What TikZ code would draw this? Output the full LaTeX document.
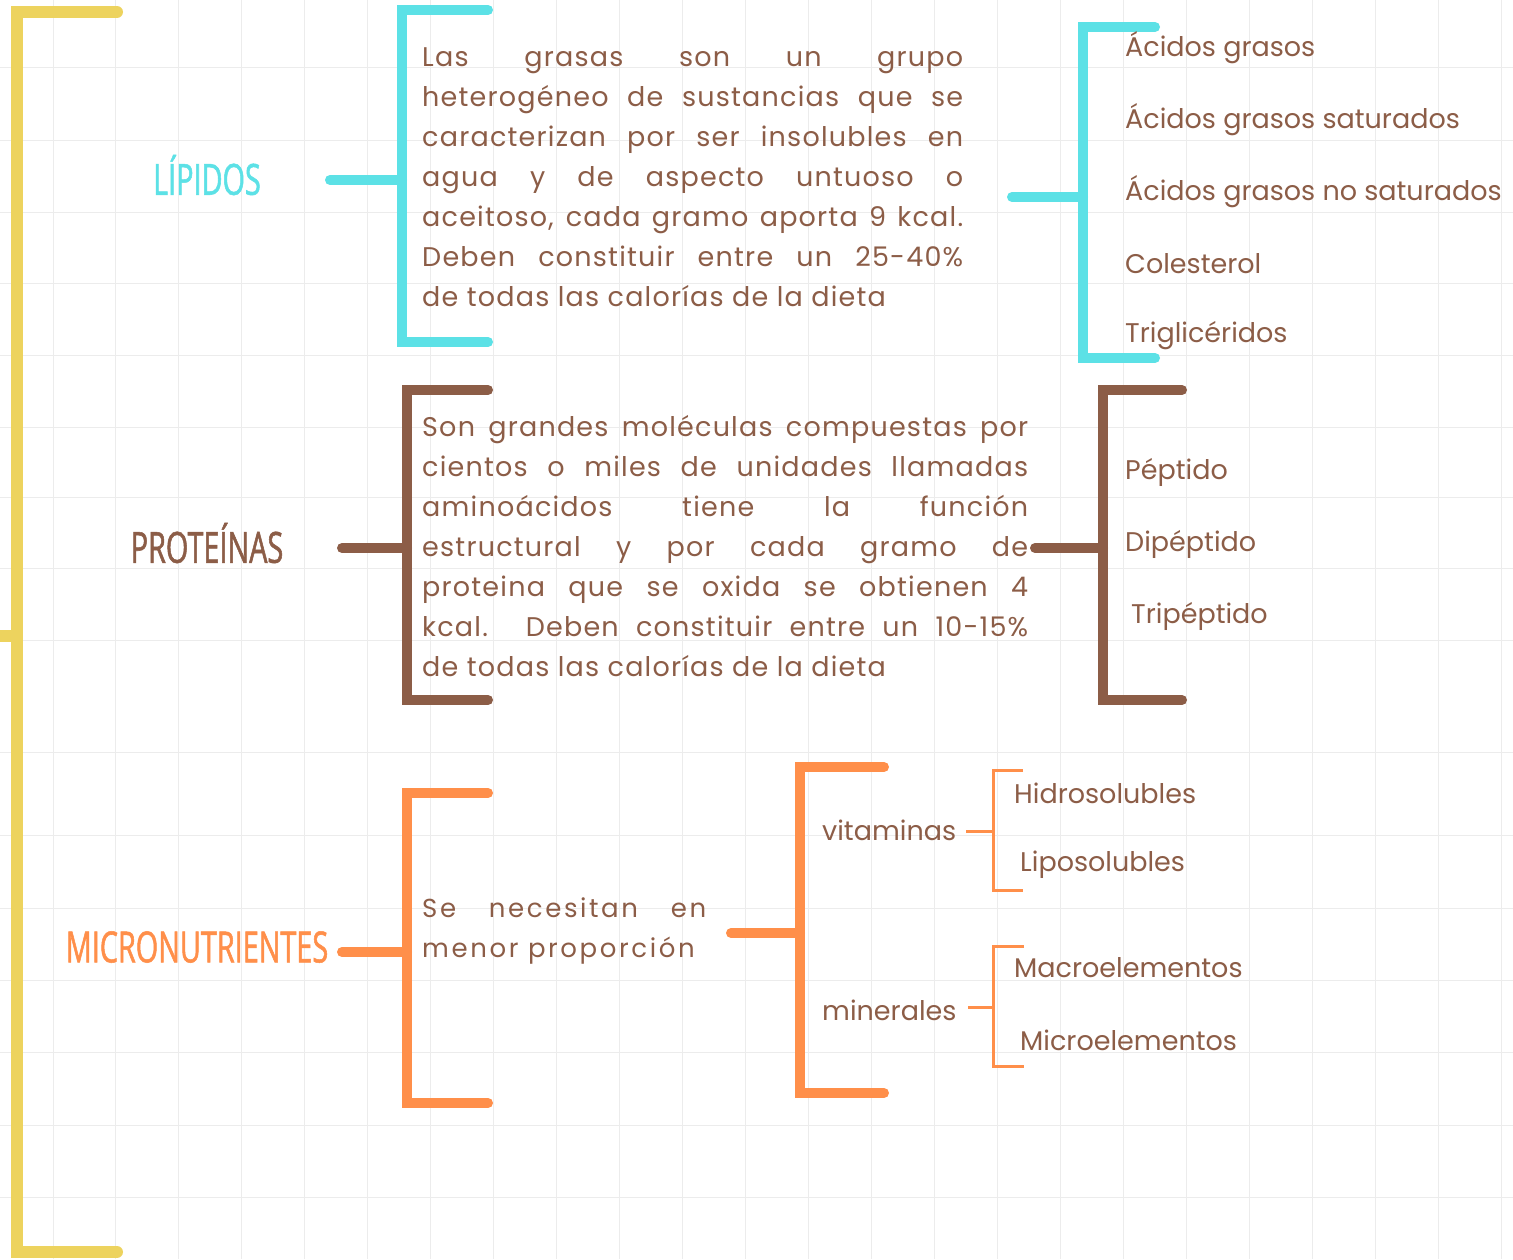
\documentclass[tikz,border=0pt]{standalone}
\usepackage{fontspec}
\setmainfont{Poppins}
\newfontfamily\headfont[FakeStretch=0.67, FakeBold=1.2]{Open Sans}
\newfontfamily\parafont[LetterSpace=4.5]{Poppins}
\newfontfamily\widefont[LetterSpace=10]{Poppins}
\usetikzlibrary{calc, positioning}
\definecolor{yel}{HTML}{EDD35E}
\definecolor{cya}{HTML}{5CE1E6}
\definecolor{brn}{HTML}{8C5D47}
\definecolor{org}{HTML}{FF8F4A}
\definecolor{gridgray}{HTML}{ECECEC}

\begin{document}
\begin{tikzpicture}[x=1pt, y=-1pt,
  bracket/.style={line width=10pt, line cap=round, line join=miter},
  thinbracket/.style={line width=3pt, line join=miter},
  heading/.style={font=\headfont\fontsize{43}{43}\selectfont, inner sep=0pt},
  para/.style={text=brn, font=\parafont\fontsize{27}{40}\selectfont, inner sep=0pt,
    align=justify, anchor=north west},
  item/.style={text=brn, font=\fontsize{27}{30}\selectfont, inner sep=0pt, anchor=west}]
  \useasboundingbox (0,0) rectangle (1513,1259);
  \fill[white] (0,0) rectangle (1513,1259);
  % background grid
  \foreach \gx in {53,115,178,241,304,367,430,493,556,619,682,745,808,871,934,997,1060,1123,1186,1249,1312,1375,1438,1501}
    \draw[gridgray, line width=1pt] (\gx,0) -- (\gx,1259);
  \foreach \gy in {67,140,212,283,355,427,497,568,640,752,835,908,980,1052,1125,1197}
    \draw[gridgray, line width=1pt] (0,\gy) -- (1513,\gy);

  % main bracket
  \coordinate (Yt) at (117,12);
  \coordinate (Yb) at (117,1252);
  \coordinate (Ym) at (17,636);
  \coordinate (Yl) at (0,636);
  \draw[yel, line width=12pt, line cap=round] (Yt) -- (17,12) -- (17,1252) -- (Yb);
  \draw[yel, line width=12pt] (Yl) -- (Ym);

  % lipidos
  \node[heading, text=cya] (lip) at (207,175) {LÍPIDOS};
  \coordinate (lipC) at (330,180);
  \coordinate (lipB) at (402,180);
  \draw[cya, bracket] (lipC) -- (lipB);
  \draw[cya, bracket] (488,10) -- (402,10) -- (402,342) -- (488,342);
  \node[para, text width=541pt] (lipT) at (422,47) {Las grasas son un grupo\linebreak
    heterogéneo de sustancias que se\linebreak
    caracterizan por ser insolubles en\linebreak
    agua y de aspecto untuoso o\linebreak
    aceitoso, cada gramo aporta 9 kcal.\linebreak
    Deben constituir entre un 25-40\%\linebreak
    de todas las calorías de la dieta};
  \coordinate (lipD) at (1012,197);
  \coordinate (lipE) at (1083,197);
  \draw[cya, bracket] (lipD) -- (lipE);
  \draw[cya, bracket] (1155,27) -- (1083,27) -- (1083,358) -- (1155,358);
  \node[item] (ag1) at (1125,48) {Ácidos grasos};
  \node[item] (ag2) at (1125,120) {Ácidos grasos saturados};
  \node[item] (ag3) at (1125,192) {Ácidos grasos no saturados};
  \node[item] (col) at (1125,264) {Colesterol};
  \node[item] (tri) at (1125,336) {Triglicéridos};

  % proteinas
  \node[heading, text=brn] (pro) at (207,543) {PROTEÍNAS};
  \coordinate (proC) at (342,548);
  \coordinate (proB) at (407,548);
  \draw[brn, bracket] (proC) -- (proB);
  \draw[brn, bracket] (488,390) -- (407,390) -- (407,700) -- (488,700);
  \node[para, text width=606pt] (proT) at (422,415) {Son grandes moléculas compuestas por\linebreak
    cientos o miles de unidades llamadas\linebreak
    aminoácidos tiene la función\linebreak
    estructural y por cada gramo de\linebreak
    proteina que se oxida se obtienen 4\linebreak
    kcal. Deben constituir entre un 10-15\%\linebreak
    de todas las calorías de la dieta};
  \coordinate (proD) at (1035,548);
  \coordinate (proE) at (1103,548);
  \draw[brn, bracket] (proD) -- (proE);
  \draw[brn, bracket] (1182,390) -- (1103,390) -- (1103,700) -- (1182,700);
  \node[item] (pep) at (1125,472) {Péptido};
  \node[item] (dip) at (1125,544) {Dipéptido};
  \node[item] (trp) at (1131,616) {Tripéptido};

  % micronutrientes
  \node[heading, text=org] (mic) at (197,947) {MICRONUTRIENTES};
  \coordinate (micC) at (342,952);
  \coordinate (micB) at (407,952);
  \draw[org, bracket] (micC) -- (micB);
  \draw[org, bracket] (488,793) -- (407,793) -- (407,1103) -- (488,1103);
  \node[para, font=\widefont\fontsize{26}{40}\selectfont, text width=284pt] (micT) at (422,897)
    {Se necesitan en\linebreak menor proporción};
  \coordinate (micD) at (731,933);
  \coordinate (micE) at (800,933);
  \draw[org, bracket] (micD) -- (micE);
  \draw[org, bracket] (884,767) -- (800,767) -- (800,1093) -- (884,1093);
  \node[item] (vit) at (822,830) {vitaminas};
  \node[item] (min) at (822,1010) {minerales};
  \coordinate (vitC) at (966,831);
  \coordinate (vitB) at (993,831);
  \draw[org, thinbracket] (vitC) -- (vitB);
  \draw[org, thinbracket] (1023,770) -- (993,770) -- (993,890) -- (1023,890);
  \node[item] (hid) at (1014,793) {Hidrosolubles};
  \node[item] (lpo) at (1020,865) {Liposolubles};
  \coordinate (minC) at (968,1007);
  \coordinate (minB) at (993,1007);
  \draw[org, thinbracket] (minC) -- (minB);
  \draw[org, thinbracket] (1024,946) -- (993,946) -- (993,1066) -- (1024,1066);
  \node[item] (mac) at (1014,968) {Macroelementos};
  \node[item] (mcr) at (1020,1040) {Microelementos};
\end{tikzpicture}
\end{document}
